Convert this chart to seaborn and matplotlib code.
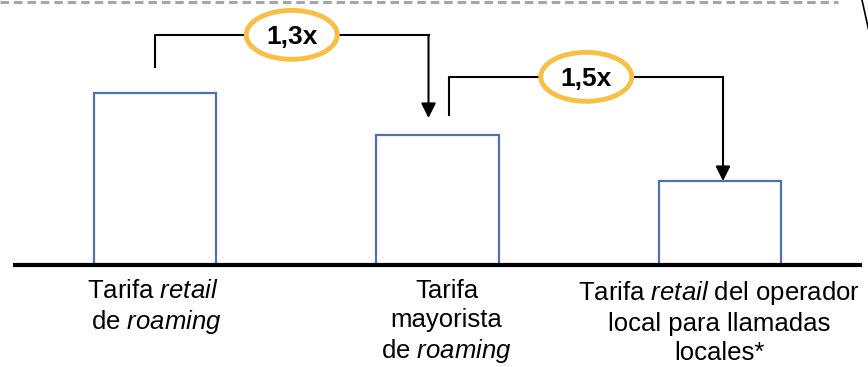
import numpy as np
import pandas as pd
import seaborn as sns
import matplotlib.pyplot as plt
from matplotlib.patches import Ellipse
from matplotlib.lines import Line2D

# data (relative tariff levels)
categorias = ["retail_roaming", "mayorista_roaming", "retail_local"]
valores = [2.05, 1.55, 1.0]
multiplicadores = ["1,3x", "1,5x"]
etiquetas = [
    "Tarifa $\\mathit{retail}$\n de $\\mathit{roaming}$",
    "Tarifa\nmayorista\nde $\\mathit{roaming}$",
    "Tarifa $\\mathit{retail}$ del operador\nlocal para llamadas\nlocales*",
]

plt.rcParams["font.family"] = ["Liberation Sans", "DejaVu Sans"]
plt.rcParams["mathtext.fontset"] = "custom"
plt.rcParams["mathtext.rm"] = "Liberation Sans"
plt.rcParams["mathtext.it"] = "Liberation Sans:italic"

df = pd.DataFrame({"cat": categorias, "valor": valores})

fig = plt.figure(figsize=(8.68, 3.67), dpi=100)
ax = fig.add_axes([0, 0, 1, 1])
sns.barplot(data=df, x="cat", y="valor", fill=False, color="#4f73a8",
            linewidth=1.6, width=0.432, ax=ax)

# px -> data scales
px_x = 282.5
px_y = 84.0
ax.set_xlim(-155 / px_x, (868 - 155) / px_x)
ax.set_ylim(-102 / px_y, (367 - 102) / px_y)
ax.axis("off")

# baseline
ax.plot([-142 / px_x, (862 - 155) / px_x], [0, 0], color="black", lw=3,
        solid_capstyle="butt", zorder=3)

# brackets with arrows
def bracket(x0, y0, ytop, x1, y1, txt):
    ax.plot([x0, x0, x1], [y0, ytop, ytop], color="black", lw=1.5)
    ax.annotate("", xy=(x1, y1), xytext=(x1, ytop),
                arrowprops=dict(arrowstyle="-|>", color="black", lw=1.5,
                                mutation_scale=22, shrinkA=0, shrinkB=0))
    xm = (x0 + x1) / 2
    ax.add_patch(Ellipse((xm, ytop), 91 / px_x, 49 / px_y, facecolor="white",
                         edgecolor="#f9bf45", lw=3.5, zorder=4))
    ax.text(xm, ytop - 2 / px_y, txt, ha="center", va="center", fontsize=19,
            fontweight="bold", zorder=5)

bracket(0, valores[0] + 0.31, valores[0] + 0.69, 1 - 9 / px_x,
        valores[1] + 0.2, multiplicadores[0])
bracket(1 + 12 / px_x, valores[1] + 0.24, valores[1] + 0.69, 2 + 3 / px_x,
        valores[2], multiplicadores[1])

# category labels
lab_x = [-2 / px_x, 1 + 9 / px_x, 2 - 1 / px_x]
for x, t in zip(lab_x, etiquetas):
    ax.text(x, -14 / px_y, t, ha="center", va="top", fontsize=18.5,
            linespacing=1.25)

# dashed top border and slanted line at the right
fig.add_artist(Line2D([0, 838 / 868], [1 - 2 / 367] * 2, color="#a6a6a6",
                      lw=2.2, linestyle=(0, (2.8, 1.6))))
fig.add_artist(Line2D([862 / 868, 870 / 868], [1, 1 - 36 / 367],
                      color="black", lw=1.2))

fig.savefig("out.png", dpi=100)
